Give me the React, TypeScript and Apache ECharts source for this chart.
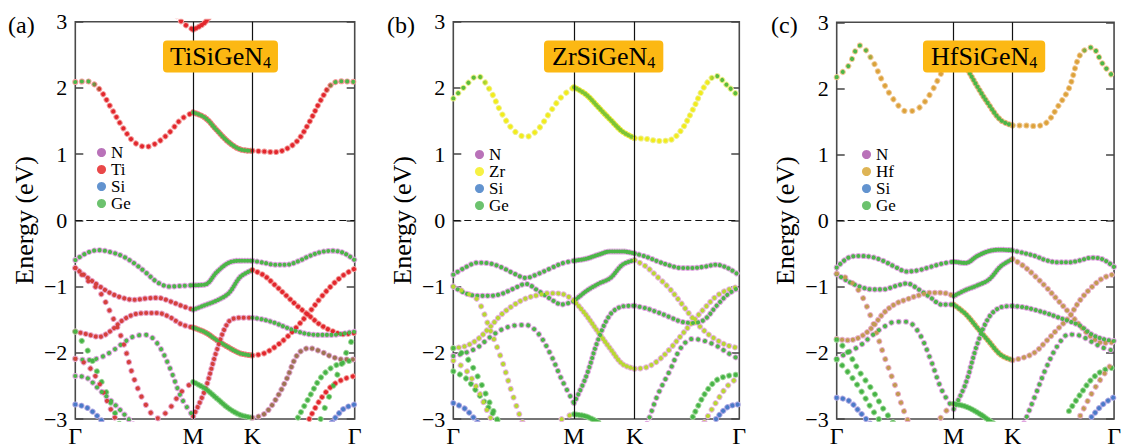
import React, { useEffect, useRef } from "react";
import * as echarts from "echarts";

const _ = null;
const SERIF = '"Liberation Serif", "Times New Roman", "DejaVu Serif", serif';

// k-path sample positions: Γ→M idx 0-10, M→K idx 10-15, K→Γ idx 15-24
const kPath = [0, 4.22, 8.44, 12.66, 16.88, 21.1, 25.32, 29.54, 33.76, 37.98, 42.2, 46.44, 50.68, 54.92, 59.16, 63.4, 67.47, 71.53, 75.6, 79.67, 83.73, 87.8, 91.87, 95.93, 100];
const kTickValues = [0, 42.2, 63.4, 100];
const kTickLabels = ["Γ", "M", "K", "Γ"];
const energyMin = -3;
const energyMax = 3;
const fermiLevel = 0;

// ---------- (a) TiSiGeN4 ----------
const aCond1 = [2.09, 2.10, 1.99, 1.71, 1.41, 1.18, 1.11, 1.18, 1.33, 1.53, 1.63, 1.55, 1.36, 1.18, 1.07, 1.05, 1.04, 1.03, 1.08, 1.21, 1.48, 1.81, 2.06, 2.10, 2.09];
const aCond2 = [_, _, _, _, _, _, _, _, 3.25, 3.0, 2.88, 2.99, 3.25, _, _, _, _, _, _, _, _, _, _, _, _];
const aVal1 = [-0.60, -0.49, -0.45, -0.48, -0.54, -0.65, -0.79, -0.94, -1.00, -0.99, -0.98, -0.97, -0.78, -0.64, -0.61, -0.61, -0.64, -0.67, -0.67, -0.62, -0.54, -0.48, -0.46, -0.49, -0.60];
const aVal2 = [-0.72, -0.86, -0.99, -1.10, -1.17, -1.20, -1.18, -1.17, -1.22, -1.29, -1.35, -1.28, -1.21, -1.10, -0.85, -0.75, -0.83, -0.98, -1.14, -1.30, -1.44, -1.58, -1.67, -1.72, -1.70];
const aVal3 = [-1.68, -1.72, -1.76, -1.67, -1.51, -1.42, -1.40, -1.40, -1.46, -1.57, -1.62, -1.69, -1.81, -1.92, -2.01, -2.04, -2.01, -1.91, -1.77, -1.59, -1.39, -1.17, -0.98, -0.83, -0.73];
const aVal4 = [-2.09, -2.11, -2.08, -1.99, -1.86, -1.75, -1.73, -1.87, -2.22, -2.68, -2.96, -2.56, -1.96, -1.53, -1.47, -1.47, -1.50, -1.55, -1.62, -1.68, -1.72, -1.73, -1.73, -1.71, -1.68];
const aVal5 = [-0.72, -0.90, -1.06, -1.40, -1.81, -2.40, -2.79, -2.99, -2.84, -2.59, -2.44, -2.54, -2.69, -2.84, -2.94, -2.98, -2.93, -2.72, -2.40, -2.02, -1.93, -1.98, -2.06, -2.10, -2.10];
const aVal6 = [-1.68, -1.95, -2.35, -2.75, -3.20, _, _, _, _, _, _, _, _, _, _, _, _, _, _, _, _, _, _, _, _];
const aVal7 = [-2.09, -2.18, -2.45, -2.85, -3.20, _, _, _, _, _, _, _, _, _, _, _, _, _, _, _, _, _, _, _, _];
const aVal8 = [-2.35, -2.38, -2.55, -2.72, -2.90, -3.10, _, _, _, _, _, _, _, _, _, _, _, _, _, _, _, _, _, _, _];
const aVal9 = [-2.78, -2.83, -2.98, -3.20, _, _, _, _, _, _, _, _, _, _, _, _, _, _, _, _, _, _, _, _, _];
const aVal10 = [_, _, _, _, _, _, _, _, _, _, _, _, _, _, _, _, _, _, _, -2.98, -2.67, -2.38, -2.22, -2.15, -2.10];
const aVal11 = [_, _, _, _, _, _, _, _, _, _, _, _, _, _, _, _, _, _, _, _, -3.00, -2.70, -2.50, -2.40, -2.35];
const aVal12 = [_, _, _, _, _, _, _, _, _, _, _, _, _, _, _, _, _, _, _, _, _, -3.00, -2.55, -2.10, -1.72];
const aVal13 = [_, _, _, _, _, _, _, _, _, _, _, _, _, _, _, _, _, _, _, _, _, _, -3.05, -2.85, -2.78];

// ---------- (b) ZrSiGeN4 ----------
const bCond1 = [1.84, 2.03, 2.18, 1.98, 1.62, 1.36, 1.26, 1.37, 1.63, 1.87, 2.01, 1.90, 1.71, 1.52, 1.34, 1.24, 1.23, 1.20, 1.21, 1.36, 1.67, 2.02, 2.18, 2.03, 1.86];
const bVal1 = [-0.82, -0.71, -0.64, -0.65, -0.71, -0.80, -0.87, -0.81, -0.73, -0.65, -0.61, -0.58, -0.52, -0.47, -0.47, -0.50, -0.55, -0.62, -0.68, -0.72, -0.72, -0.70, -0.67, -0.72, -0.83];
const bVal2 = [-1.00, -1.10, -1.14, -1.14, -1.11, -1.03, -0.96, -1.06, -1.18, -1.27, -1.22, -1.07, -0.96, -0.87, -0.67, -0.60, -0.70, -0.86, -1.03, -1.25, -1.48, -1.67, -1.80, -1.89, -1.93];
const bVal3 = [-1.93, -1.90, -1.80, -1.62, -1.42, -1.28, -1.18, -1.13, -1.10, -1.11, -1.21, -1.43, -1.69, -1.94, -2.17, -2.24, -2.22, -2.12, -1.95, -1.74, -1.53, -1.33, -1.15, -1.05, -1.00];
const bVal4 = [-2.05, -2.00, -1.92, -1.77, -1.65, -1.59, -1.58, -1.70, -2.00, -2.41, -2.76, -2.36, -1.80, -1.42, -1.30, -1.29, -1.33, -1.39, -1.46, -1.53, -1.55, -1.50, -1.30, -1.12, -1.01];
const bVal5 = [-1.00, -1.09, -1.20, -1.63, -2.10, -2.68, -3.15, -3.35, -3.30, -3.00, -2.93, -2.96, -3.05, _, _, _, _, _, _, _, _, _, _, _, _];
const bVal6 = [_, _, _, _, _, _, _, _, _, _, _, _, _, _, _, -3.45, -3.10, -2.63, -2.28, -1.92, -1.79, -1.82, -1.89, -2.00, -2.10];
const bVal7 = [_, _, _, _, _, _, _, _, _, _, _, _, _, _, _, _, _, _, _, _, -2.97, -2.63, -2.42, -2.35, -2.33];
const bVal8 = [_, _, _, _, _, _, _, _, _, _, _, _, _, _, _, _, _, _, _, _, _, -3.05, -2.75, -2.50, -2.36];
const bVal9 = [_, _, _, _, _, _, _, _, _, _, _, _, _, _, _, _, _, _, _, _, _, _, -3.00, -2.82, -2.78];
const bVal10 = [-1.93, -2.05, -2.35, -2.75, -3.15, _, _, _, _, _, _, _, _, _, _, _, _, _, _, _, _, _, _, _, _];
const bVal11 = [-2.28, -2.38, -2.60, -2.85, -3.10, _, _, _, _, _, _, _, _, _, _, _, _, _, _, _, _, _, _, _, _];
const bVal12 = [-2.76, -2.85, -3.05, _, _, _, _, _, _, _, _, _, _, _, _, _, _, _, _, _, _, _, _, _, _];
const bVal13 = [-2.12, -2.25, -2.55, -2.95, -3.30, _, _, _, _, _, _, _, _, _, _, _, _, _, _, _, _, _, _, _, _];

// ---------- (c) HfSiGeN4 ----------
const cCond1 = [2.17, 2.34, 2.65, 2.44, 2.08, 1.80, 1.65, 1.70, 1.92, 2.25, 2.55, 2.33, 2.03, 1.75, 1.52, 1.44, 1.44, 1.43, 1.48, 1.72, 2.00, 2.51, 2.62, 2.37, 2.16];
const cVal1 = [-0.71, -0.56, -0.535, -0.55, -0.61, -0.70, -0.77, -0.75, -0.70, -0.65, -0.62, -0.64, -0.535, -0.46, -0.44, -0.45, -0.49, -0.535, -0.60, -0.63, -0.63, -0.60, -0.56, -0.585, -0.70];
const cVal2 = [-0.81, -0.92, -1.00, -1.04, -1.04, -0.99, -0.95, -1.04, -1.16, -1.27, -1.27, -1.41, -1.62, -1.83, -2.03, -2.11, -2.07, -1.99, -1.82, -1.64, -1.46, -1.20, -1.01, -0.87, -0.81];
const cVal3 = [-1.79, -1.81, -1.76, -1.62, -1.40, -1.26, -1.19, -1.13, -1.09, -1.09, -1.14, -1.05, -0.98, -0.89, -0.69, -0.58, -0.69, -0.84, -1.01, -1.20, -1.39, -1.59, -1.76, -1.85, -1.84];
const cVal4 = [-2.09, -1.99, -1.89, -1.74, -1.61, -1.53, -1.53, -1.69, -2.09, -2.57, -2.85, -2.47, -1.87, -1.46, -1.31, -1.29, -1.31, -1.35, -1.40, -1.46, -1.52, -1.59, -1.72, -1.79, -1.82];
const cVal5 = [-0.80, -0.89, -1.09, -1.49, -2.02, -2.50, -2.99, -3.30, -3.25, -2.95, -2.77, -2.81, -2.90, -3.02, -3.15, _, _, _, _, _, _, _, _, _, _];
const cVal6 = [_, _, _, _, _, _, _, _, _, _, _, _, _, _, _, -3.45, -3.07, -2.65, -2.22, -1.89, -1.72, -1.74, -1.83, -1.92, -1.97];
const cVal7 = [-1.80, -2.00, -2.30, -2.55, -2.85, -3.10, _, _, _, _, _, _, _, _, _, _, _, _, _, _, _, _, _, _, _];
const cVal8 = [-2.10, -2.30, -2.55, -2.85, -3.10, _, _, _, _, _, _, _, _, _, _, _, _, _, _, _, _, _, _, _, _];
const cVal9 = [-2.68, -2.72, -2.90, -3.10, _, _, _, _, _, _, _, _, _, _, _, _, _, _, _, _, _, _, _, _, _];
const cVal10 = [_, _, _, _, _, _, _, _, _, _, _, _, _, _, _, _, _, _, _, _, -2.88, -2.63, -2.40, -2.27, -2.22];
const cVal11 = [_, _, _, _, _, _, _, _, _, _, _, _, _, _, _, _, _, _, _, _, _, -2.95, -2.62, -2.35, -2.12];
const cVal12 = [_, _, _, _, _, _, _, _, _, _, _, _, _, _, _, _, _, _, _, _, _, _, -2.97, -2.78, -2.67];

const aBands = [aCond1, aCond2, aVal1, aVal2, aVal3, aVal4, aVal5, aVal6, aVal7, aVal8, aVal9, aVal10, aVal11, aVal12, aVal13];
const bBands = [bCond1, bVal1, bVal2, bVal3, bVal4, bVal5, bVal6, bVal7, bVal8, bVal9, bVal10, bVal11, bVal12, bVal13];
const cBands = [cCond1, cVal1, cVal2, cVal3, cVal4, cVal5, cVal6, cVal7, cVal8, cVal9, cVal10, cVal11, cVal12];

// dominant projection colour of each band, per segment (Γ-M, M-K, K-Γ)
const aStyles = [
  ["RRg1", "GR", "RRg2"], ["RR", "RR", "RR"], ["GP", "GP", "GP"], ["RP", "GP", "RR"], ["RP", "GR", "RR"],
  ["GP", "RP", "GP"], ["RP", "GG", "BR"], ["GG", "GG", "GG"], ["RP", "RP", "RP"], ["GP", "GP", "GP"],
  ["BB", "BB", "BB"], ["GG", "GG", "GG"], ["RR", "RR", "RR"], ["GG", "GG", "GG"], ["BB", "BB", "BB"],
];
const bStyles = [
  ["YYg1", "GY", "YYg2"], ["GP", "GP", "GP"], ["GP", "GP", "YG"], ["YG", "YG", "YG"], ["GP", "GP", "GP"],
  ["YG", "GG", "GG"], ["GP", "GP", "GP"], ["GG", "GG", "GG"], ["YG", "YG", "YG"], ["BB", "BB", "BB"],
  ["GG", "GG", "GG"], ["GG", "GG", "GG"], ["BB", "BB", "BB"], ["YG", "YG", "YG"],
];
const cStyles = [
  ["OOg1", "GO", "OOg2"], ["GP", "GP", "GP"], ["GP", "GO", "OG"], ["OG", "GP", "OG"], ["GP", "GP", "GP"],
  ["OG", "GG", "GG"], ["GP", "GP", "GP"], ["GG", "GG", "GG"], ["GG", "GG", "GG"], ["BB", "BB", "BB"],
  ["GG", "GG", "GG"], ["OG", "OG", "OG"], ["BB", "BB", "BB"],
];

type Paint = string | [number, string][];
const DOT_STYLES: Record<string, { inner: Paint; ring: Paint }> = {
  GP: { inner: "#4cb648", ring: "#e0a6e0" },
  RR: { inner: "#e2262c", ring: "#f29a9a" },
  RRg1: { inner: [[0, "#4cb648"], [0.14, "#4cb648"], [0.22, "#e2262c"], [1, "#e2262c"]], ring: "#f29a9a" },
  RRg2: { inner: [[0, "#e2262c"], [0.72, "#e2262c"], [0.8, "#4cb648"], [1, "#4cb648"]], ring: "#f29a9a" },
  GR: { inner: "#4cb648", ring: "#ef7f7f" },
  RP: { inner: "#d5403c", ring: "#e8a2c6" },
  BR: { inner: "#9d7452", ring: "#dca2c8" },
  GG: { inner: "#46b446", ring: "#9ad494" },
  YY: { inner: "#f2ec1a", ring: "#f6f29a" },
  YYg1: { inner: [[0, "#5cbc3c"], [0.22, "#5cbc3c"], [0.3, "#f2ec1a"], [1, "#f2ec1a"]], ring: "#eeee88" },
  YYg2: { inner: [[0, "#f2ec1a"], [0.7, "#f2ec1a"], [0.78, "#5cbc3c"], [1, "#5cbc3c"]], ring: "#eeee88" },
  GY: { inner: "#7cc436", ring: "#ece840" },
  YG: { inner: "#b8d832", ring: "#e6b4dc" },
  OO: { inner: "#dca23a", ring: "#f3cd96" },
  OOg1: { inner: [[0, "#4cb648"], [0.24, "#4cb648"], [0.32, "#dca23a"], [1, "#dca23a"]], ring: "#efc792" },
  OOg2: { inner: [[0, "#dca23a"], [0.66, "#dca23a"], [0.74, "#4cb648"], [1, "#4cb648"]], ring: "#efc792" },
  GO: { inner: "#4cb648", ring: "#eab37e" },
  OG: { inner: "#c29a52", ring: "#e8b0c8" },
  BB: { inner: "#4a7ac8", ring: "#aaa6e2" },
};

const ELEMENT_COLORS: Record<string, string> = {
  N: "#a84fa8", Ti: "#e41a1c", Zr: "#f4ee15", Hf: "#d6a12b", Si: "#3b78c3", Ge: "#47b34a",
};

const SEGMENTS = [[0, 10], [10, 15], [15, 24]];
// horizontal dot spacing (px) of the k-mesh on each segment
const SEGMENT_DX = [4.8, 2.4, 4.4];
const RING_WIDTH = 6;
const INNER_WIDTH = 4.1;

const panels = [
  { bands: aBands, styles: aStyles, formula: "TiSiGeN", metal: "Ti", tag: "(a)" },
  { bands: bBands, styles: bStyles, formula: "ZrSiGeN", metal: "Zr", tag: "(b)" },
  { bands: cBands, styles: cStyles, formula: "HfSiGeN", metal: "Hf", tag: "(c)" },
];

const layout = [
  { grid: { left: 75.3, top: 21.7, width: 279.4, height: 398.3 }, tag: { left: 8, top: 13 }, box: { left: 163, top: 40, pad: 7 }, legend: { left: 97, top: 144 } },
  { grid: { left: 453.3, top: 21.7, width: 286, height: 397.6 }, tag: { left: 387, top: 13 }, box: { left: 544, top: 40, pad: 8 }, legend: { left: 475, top: 146 } },
  { grid: { left: 836.7, top: 22.3, width: 288.8, height: 397.7 }, tag: { left: 771, top: 13 }, box: { left: 923, top: 40, pad: 8 }, legend: { left: 862, top: 146 } },
];

function paint(p: Paint) {
  if (typeof p === "string") return p;
  return new echarts.graphic.LinearGradient(0, 0, 1, 0, p.map(([offset, color]) => ({ offset, color })));
}

function buildOption() {
  const series: any[] = [];
  panels.forEach((p, pi) => {
    const g = layout[pi].grid;
    const sx = g.width / 100;
    const sy = g.height / (energyMax - energyMin);
    series.push({
      type: "line", xAxisIndex: pi, yAxisIndex: pi * 2, data: [[0, "-"], [100, "-"]], silent: true, z: 1,
      symbol: "none",
      markLine: {
        silent: true, symbol: ["none", "none"], label: { show: false }, animation: false,
        data: [
          { xAxis: kTickValues[1], lineStyle: { color: "#111", width: 1.2, type: "solid" } },
          { xAxis: kTickValues[2], lineStyle: { color: "#111", width: 1.2, type: "solid" } },
          { yAxis: fermiLevel, lineStyle: { color: "#111", width: 1.2, type: [7, 4] } },
        ],
      },
    });
    (["ring", "inner"] as const).forEach((layer) => {
      p.bands.forEach((vals, bi) => {
        SEGMENTS.forEach(([s, e], si) => {
          const key = p.styles[bi][si];
          if (!key) return;
          const data: any[] = [];
          const pts: [number, number][] = [];
          for (let i = s; i <= e; i++) {
            const v = vals[i];
            if (v === null || v === undefined) data.push([kPath[i], "-"]);
            else { data.push([kPath[i], v]); pts.push([kPath[i], v]); }
          }
          if (pts.length < 2) return;
          // dots sit on a uniform k-mesh: spread them along the curve accordingly
          let arc = 0;
          for (let j = 1; j < pts.length; j++) {
            const dx = (pts[j][0] - pts[j - 1][0]) * sx;
            const e0 = Math.max(energyMin - 0.2, Math.min(energyMax + 0.2, pts[j - 1][1]));
            const e1 = Math.max(energyMin - 0.2, Math.min(energyMax + 0.2, pts[j][1]));
            arc += Math.hypot(dx, (e1 - e0) * sy);
          }
          const xLen = (pts[pts.length - 1][0] - pts[0][0]) * sx;
          const gap = Math.max(SEGMENT_DX[si], arc / (xLen / SEGMENT_DX[si]));
          series.push({
            type: "line", xAxisIndex: pi, yAxisIndex: pi * 2, data, smooth: 0.35,
            showSymbol: false, symbol: "none", silent: true, clip: true, connectNulls: false,
            z: layer === "ring" ? 2 : 3,
            lineStyle: {
              color: paint(DOT_STYLES[key][layer]), width: layer === "ring" ? RING_WIDTH : INNER_WIDTH,
              type: [0.01, gap], cap: "round",
            },
            emphasis: { disabled: true },
          });
        });
      });
    });
    ["N", p.metal, "Si", "Ge"].forEach((el) => {
      series.push({ type: "scatter", name: el, xAxisIndex: pi, yAxisIndex: pi * 2, data: [], itemStyle: { color: ELEMENT_COLORS[el] } });
    });
  });

  const grid = layout.map((l) => ({ ...l.grid, show: true, borderColor: "#4a4a4a", borderWidth: 1.6, containLabel: false }));
  const xAxis = panels.map((_p, pi) => ({
    gridIndex: pi, type: "value", min: 0, max: 100,
    axisLine: { show: false }, axisTick: { show: false }, splitLine: { show: false },
    axisLabel: {
      customValues: kTickValues,
      formatter: (v: number) => { const i = kTickValues.indexOf(v); return i >= 0 ? kTickLabels[i] : ""; },
      fontSize: 24, fontFamily: SERIF, color: "#000", margin: 5, showMinLabel: true, showMaxLabel: true, hideOverlap: false,
    },
  }));
  const tickStyle = { show: true, inside: true, length: 8, lineStyle: { color: "#444", width: 1.5 } };
  const yAxis: any[] = [];
  panels.forEach((_p, pi) => {
    yAxis.push({
      gridIndex: pi, type: "value", min: energyMin, max: energyMax, interval: 1, position: "left",
      name: "Energy (eV)", nameLocation: "middle", nameGap: 38,
      nameTextStyle: { fontSize: 26, fontFamily: SERIF, color: "#000" },
      axisLine: { show: false }, axisTick: tickStyle, splitLine: { show: false },
      axisLabel: {
        fontSize: 22, fontFamily: SERIF, color: "#000", margin: 8,
        formatter: (v: number) => (v < 0 ? "\u2212" + Math.abs(v) : String(v)),
      },
    });
    yAxis.push({
      gridIndex: pi, type: "value", min: energyMin, max: energyMax, interval: 1, position: "right",
      axisLine: { show: false }, axisTick: tickStyle, splitLine: { show: false }, axisLabel: { show: false },
    });
  });

  const title: any[] = [];
  panels.forEach((p, pi) => {
    const l = layout[pi];
    title.push({ text: p.tag, left: l.tag.left, top: l.tag.top, padding: 0, textStyle: { fontSize: 24, fontWeight: "normal", fontFamily: SERIF, color: "#000" } });
    title.push({
      text: "{m|" + p.formula + "}{s|4}", left: l.box.left, top: l.box.top,
      padding: [2, l.box.pad, 2, l.box.pad], backgroundColor: "#fcb813", borderRadius: 4,
      textStyle: {
        fontWeight: "normal",
        rich: {
          m: { fontSize: 26, fontFamily: SERIF, fontWeight: "normal", color: "#000", lineHeight: 29 },
          s: { fontSize: 16, fontFamily: SERIF, fontWeight: "normal", color: "#000", lineHeight: 16, padding: [12, 0, 0, 0] },
        },
      },
    });
  });

  const legend = panels.map((p, pi) => ({
    data: ["N", p.metal, "Si", "Ge"], left: layout[pi].legend.left, top: layout[pi].legend.top,
    orient: "vertical", icon: "circle", itemWidth: 9, itemHeight: 9, itemGap: 0, padding: 0,
    selectedMode: false,
    textStyle: { fontSize: 17, lineHeight: 16, fontFamily: SERIF, color: "#000" },
  }));

  return { animation: false, backgroundColor: "#fff", grid, xAxis, yAxis, series, title, legend };
}

export default function App() {
  const ref = useRef<HTMLDivElement>(null);
  useEffect(() => {
    if (!ref.current) return;
    const chart = echarts.init(ref.current, null, { renderer: "svg" });
    chart.setOption(buildOption() as any);
    return () => chart.dispose();
  }, []);
  return <div ref={ref} style={{ position: "absolute", left: 0, top: 0, width: 1124, height: 448 }} />;
}
